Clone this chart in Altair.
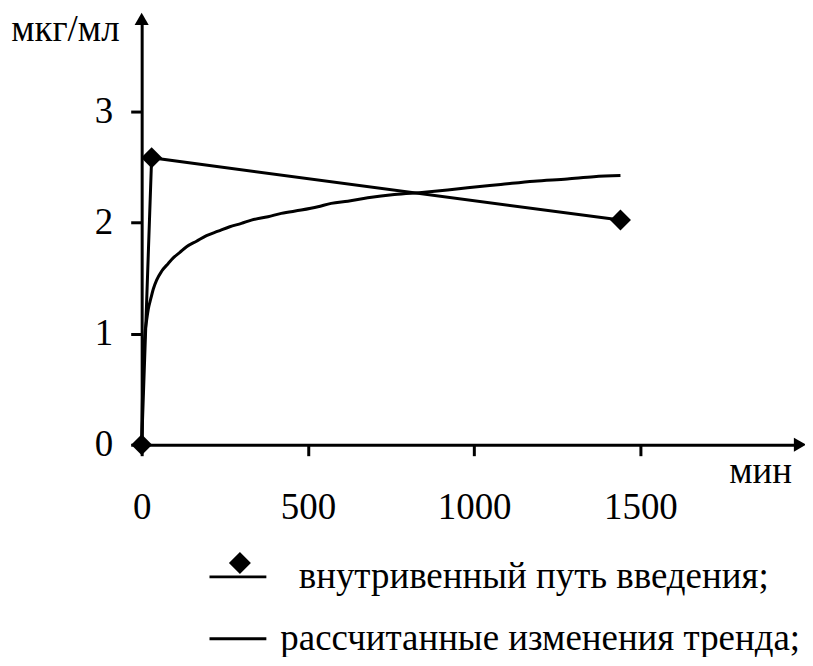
import altair as alt
import pandas as pd

# ---- data ----
x_ticks = [0, 500, 1000, 1500]
y_ticks = [0, 1, 2, 3]
x_unit = "мин"
y_unit = "мкг/мл"
x_max = 1980      # arrow tip of the time axis
y_max = 3.83      # arrow tip of the concentration axis

# a zero-width char keeps the leading spaces from being trimmed
series_iv = "\u200b\u00a0\u00a0внутривенный путь введения;"
series_trend = "рассчитанные изменения тренда;"

time_iv = [0, 30, 1440]
conc_iv = [0, 2.58, 2.02]

time_trend = [0, 2, 4, 7, 10, 15, 20, 28, 35, 45, 60, 80, 95, 115, 135, 165,
              195, 230, 265, 300, 330, 380, 420, 480, 530, 570, 620, 680, 760,
              850, 920, 980, 1080, 1180, 1280, 1360, 1440]
conc_trend = [0, 0.35, 0.65, 0.85, 1.0, 1.12, 1.22, 1.32, 1.40, 1.48, 1.56,
              1.63, 1.68, 1.73, 1.78, 1.83, 1.88, 1.92, 1.96, 1.99, 2.02, 2.05,
              2.08, 2.11, 2.14, 2.17, 2.19, 2.22, 2.25, 2.27, 2.29, 2.31, 2.34,
              2.37, 2.39, 2.41, 2.42]

# ---- styling ----
FONT = "Liberation Serif"
FS = 37
W, H = 660, 427
LW = 3

# legend symbols (custom SVG paths, unit = half the symbol box)
path_iv = ("M-1,-0.05H1V0.05H-1Z "
           "M0.07,-0.876L0.456,-0.49L0.07,-0.104L-0.316,-0.49Z")
path_trend = "M-1,-0.05H1V0.05H-1Z"

df_iv = pd.DataFrame({"t": time_iv, "c": conc_iv, "s": series_iv})
df_tr = pd.DataFrame({"t": time_trend, "c": conc_trend, "s": series_trend})
df_all = pd.concat([df_iv, df_tr], ignore_index=True)

xs = alt.Scale(domain=[0, x_max], nice=False, zero=False)
ys = alt.Scale(domain=[0, y_max], nice=False, zero=False)

x_axis = alt.Axis(values=x_ticks, format="d", title=x_unit, titleX=620, titleY=27,
                  titleAngle=0, titleAlign="center", titleBaseline="middle",
                  titleFont=FONT, titleFontSize=FS, titleFontWeight="normal",
                  titleColor="black", labelFont=FONT, labelFontSize=FS,
                  labelColor="black", labelPadding=34, labelFlush=False,
                  labelOverlap=False, tickSize=11, tickWidth=LW, tickColor="black",
                  domainColor="black", domainWidth=LW, grid=False)
y_axis = alt.Axis(values=y_ticks, format="d", title=y_unit, titleX=-77, titleY=11,
                  titleAngle=0, titleAlign="center", titleBaseline="middle",
                  titleFont=FONT, titleFontSize=FS, titleFontWeight="normal",
                  titleColor="black", labelFont=FONT, labelFontSize=FS,
                  labelColor="black", labelPadding=18, labelFlush=False,
                  labelOverlap=False, tickSize=11, tickWidth=LW, tickColor="black",
                  domainColor="black", domainWidth=LW, grid=False)

X = alt.X("t:Q", scale=xs, axis=x_axis)
Y = alt.Y("c:Q", scale=ys, axis=y_axis)

trend = alt.Chart(df_tr).mark_line(color="black", strokeWidth=LW, interpolate="monotone").encode(
    x=X, y=Y, order="t:Q")
iv_line = alt.Chart(df_iv).mark_line(color="black", strokeWidth=LW).encode(
    x=X, y=Y, order="t:Q")
iv_pts = alt.Chart(df_iv).mark_point(shape="diamond", filled=True, size=441,
                                     color="black", opacity=1, strokeWidth=0).encode(x=X, y=Y)

arrow_up = alt.Chart(pd.DataFrame({"t": [0], "c": [y_max]})).mark_point(
    shape="triangle-up", filled=True, size=200, color="black", opacity=1, strokeWidth=0
).encode(x=X, y=Y)
arrow_right = alt.Chart(pd.DataFrame({"t": [x_max], "c": [0]})).mark_point(
    shape="triangle-right", filled=True, size=200, color="black", opacity=1, strokeWidth=0
).encode(x=X, y=Y)

legend_layer = alt.Chart(df_all).mark_point(filled=True, size=0, color="black").encode(
    x=X, y=Y,
    shape=alt.Shape("s:N",
                    scale=alt.Scale(domain=[series_iv, series_trend],
                                    range=[path_iv, path_trend]),
                    legend=alt.Legend(orient="none", legendX=68, legendY=531,
                                      title=None, symbolSize=3249,
                                      symbolFillColor="black", symbolStrokeColor="black",
                                      symbolStrokeWidth=0, symbolOpacity=1,
                                      labelFont=FONT, labelFontSize=FS,
                                      labelColor="black", labelOffset=14,
                                      labelLimit=900, rowPadding=15, padding=0)))

chart = alt.layer(trend, iv_line, iv_pts, arrow_up, arrow_right, legend_layer).properties(
    width=W, height=H,
    autosize=alt.AutoSizeParams(type="none"),
    padding={"left": 134, "top": 10, "right": 5, "bottom": 212},
    background="white",
).configure_view(stroke=None)

chart.save("out.html", embed_options={"renderer": "svg", "actions": False})
